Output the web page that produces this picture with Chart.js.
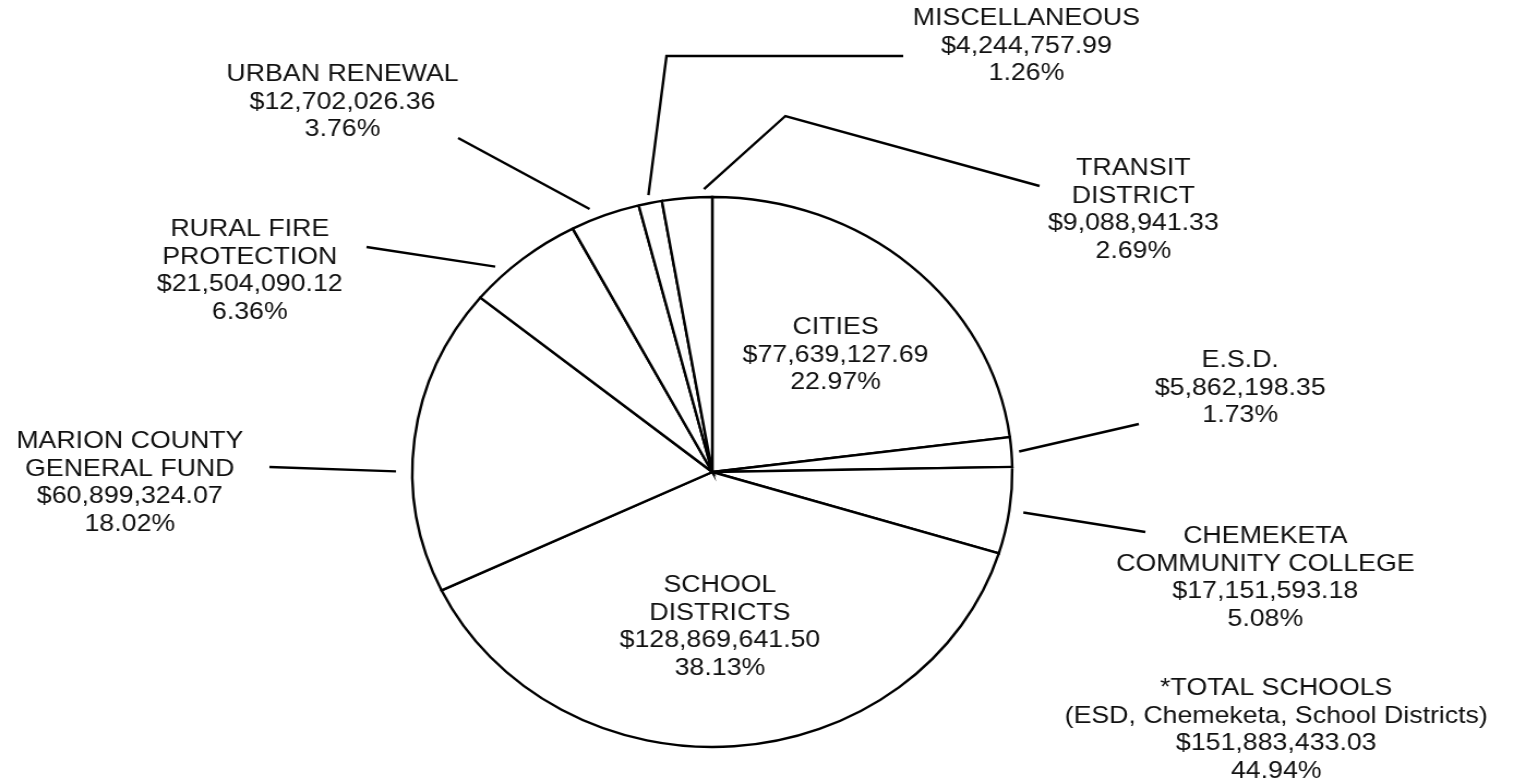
<!DOCTYPE html>
<html>
<head>
<meta charset="utf-8">
<script src="https://cdn.jsdelivr.net/npm/chart.js"></script>
<style>
  html, body { margin: 0; padding: 0; background: #fff; overflow: hidden; }
  /* the original picture is stretched sideways, so draw narrow and stretch */
  #wrap { width: 1388px; height: 784px; transform: scaleX(1.0908); transform-origin: 0 0; }
</style>
</head>
<body>
<div id="wrap"><canvas id="pie"></canvas></div>
<script>
// Data
const categories = ['CITIES', 'E.S.D.', 'CHEMEKETA COMMUNITY COLLEGE', 'SCHOOL DISTRICTS',
  'MARION COUNTY GENERAL FUND', 'RURAL FIRE PROTECTION', 'URBAN RENEWAL', 'MISCELLANEOUS', 'TRANSIT DISTRICT'];
const amounts = [77639127.69, 5862198.35, 17151593.18, 128869641.50, 60899324.07,
  21504090.12, 12702026.36, 4244757.99, 9088941.33];
const percents = ['22.97%', '1.73%', '5.08%', '38.13%', '18.02%', '6.36%', '3.76%', '1.26%', '2.69%'];
const labelLines = [['CITIES'], ['E.S.D.'], ['CHEMEKETA', 'COMMUNITY COLLEGE'], ['SCHOOL', 'DISTRICTS'],
  ['MARION COUNTY', 'GENERAL FUND'], ['RURAL FIRE', 'PROTECTION'], ['URBAN RENEWAL'], ['MISCELLANEOUS'], ['TRANSIT', 'DISTRICT']];
const schoolIdx = [1, 2, 3];
const totalSchoolsPercent = '44.94%';

// Layout of the labels (x, y of first line) and their leader lines
const labelPos = [[766, 327], [1137, 360], [1160, 536], [660, 585], [119, 441],
  [229, 229], [314, 74], [941, 18], [1039, 168]];
const leaderShift = [null, 0, 0, null, -6.8, -4.9, -2.2, 0, 3.3];  // degrees from slice middle
const leaderGap = [0, 7, 13, 0, 15, 11, 11, 8, 8];
const leaderPts = [null, [[1044, 424]], [[1050, 532]], null, [[247, 467]], [[336, 247]],
  [[420, 138]], [[611, 56], [828, 56]], [[720, 116], [953, 186]]];
const totalPos = [1170, 688];
const lineGap = 27.8;
const font = '24.5px "Liberation Sans", Arial, sans-serif';

const money = v => '$' + v.toLocaleString('en-US', { minimumFractionDigits: 2, maximumFractionDigits: 2 });

const labelsPlugin = {
  id: 'pieLabels',
  afterDraw(chart) {
    const ctx = chart.ctx;
    const arcs = chart.getDatasetMeta(0).data;
    ctx.save();
    ctx.font = font;
    ctx.fillStyle = '#111';
    ctx.textAlign = 'center';
    ctx.textBaseline = 'middle';
    ctx.strokeStyle = '#000';
    ctx.lineWidth = 2.4;

    categories.forEach((c, i) => {
      const lines = labelLines[i].concat([money(amounts[i]), percents[i]]);
      lines.forEach((t, k) => ctx.fillText(t, labelPos[i][0], labelPos[i][1] + k * lineGap));

      if (leaderPts[i]) {
        const a = arcs[i];
        const ang = (a.startAngle + a.endAngle) / 2 + leaderShift[i] * Math.PI / 180;
        const r = a.outerRadius + leaderGap[i];
        ctx.beginPath();
        ctx.moveTo(a.x + Math.cos(ang) * r, a.y + Math.sin(ang) * r);
        leaderPts[i].forEach(p => ctx.lineTo(p[0], p[1]));
        ctx.stroke();
      }
    });

    const total = schoolIdx.reduce((s, i) => s + amounts[i], 0);
    const tl = ['*TOTAL SCHOOLS', '(ESD, Chemeketa, School Districts)', money(total), totalSchoolsPercent];
    tl.forEach((t, k) => ctx.fillText(t, totalPos[0], totalPos[1] + k * lineGap));
    ctx.restore();
  }
};

new Chart(document.getElementById('pie').getContext('2d'), {
  type: 'pie',
  data: {
    labels: categories,
    datasets: [{
      data: amounts,
      backgroundColor: '#fff',
      borderColor: '#000',
      borderWidth: 2.4,
      borderJoinStyle: 'miter'
    }]
  },
  options: {
    responsive: true,
    maintainAspectRatio: false,
    animation: false,
    events: [],
    radius: 275,
    layout: { padding: { top: 197, bottom: 37, left: 353, right: 435 } },
    plugins: {
      legend: { display: false },
      tooltip: { enabled: false }
    }
  },
  plugins: [labelsPlugin]
});
</script>
</body>
</html>
